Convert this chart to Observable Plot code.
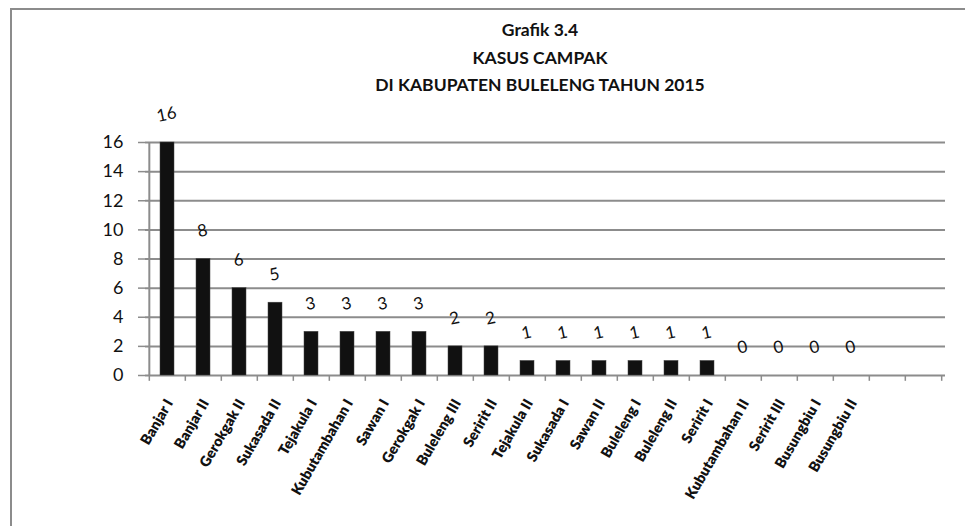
<!DOCTYPE html>
<html>
<head>
<meta charset="utf-8">
<script src="https://cdn.jsdelivr.net/npm/d3@7"></script>
<script src="https://cdn.jsdelivr.net/npm/@observablehq/plot@0.6"></script>
<style>
  html, body { margin: 0; padding: 0; background: #fff; }
  #wrap { position: relative; width: 965px; height: 526px; overflow: hidden; font-family: Lato, "Open Sans", sans-serif; }
  #frame { position: absolute; left: 10px; top: 8px; width: 1000px; height: 600px; border-top: 2px solid #8c8c8c; border-left: 2px solid #8c8c8c; }
  #title { position: absolute; left: 290px; width: 500px; top: 16px; text-align: center; font-weight: bold; font-size: 17.5px; line-height: 27.5px; color: #111; }
  #chart { position: absolute; left: 0; top: 0; }
</style>
</head>
<body>
<div id="wrap">
  <div id="frame"></div>
  <div id="title">Grafik 3.4<br>KASUS CAMPAK<br>DI KABUPATEN BULELENG TAHUN 2015</div>
  <div id="chart"></div>
</div>
<script>
const categories = ["Banjar I","Banjar II","Gerokgak II","Sukasada II","Tejakula I","Kubutambahan I","Sawan I","Gerokgak I","Buleleng III","Seririt II","Tejakula II","Sukasada I","Sawan II","Buleleng I","Buleleng II","Seririt I","Kubutambahan II","Seririt III","Busungbiu I","Busungbiu II"];
const values = [16,8,6,5,3,3,3,3,2,2,1,1,1,1,1,1,0,0,0,0];
const emptySlots = [" ", "  "];
const yTicks = [0,2,4,6,8,10,12,14,16];

const data = categories.map((c, i) => ({name: c, value: values[i]}));
const domain = categories.concat(emptySlots);

const W = 965, H = 526;
const mL = 145, mR = 20, mT = 142, mB = 151;
const step = (W - mL - mR) / domain.length;
const grey = "#8c8c8c";

const chart = Plot.plot({
  width: W,
  height: H,
  marginLeft: mL,
  marginRight: mR,
  marginTop: mT,
  marginBottom: mB,
  style: {background: "transparent", fontFamily: "Lato, 'Open Sans', sans-serif", color: "#111"},
  x: {domain, paddingInner: 0.62, paddingOuter: 0.31, label: null},
  y: {domain: [0, 16], label: null},
  marks: [
    Plot.gridY(yTicks, {stroke: grey, strokeOpacity: 1, strokeWidth: 2}),
    Plot.ruleX([domain[0]], {y1: 0, y2: 16, dx: -step / 2, stroke: grey, strokeWidth: 2}),
    Plot.ruleX(domain, {y1: 0, y2: -0.4, dx: -step / 2, stroke: grey, strokeWidth: 1.5}),
    Plot.ruleX([domain[domain.length - 1]], {y1: 0, y2: -0.4, dx: step / 2, stroke: grey, strokeWidth: 1.5}),
    Plot.axisY({ticks: yTicks, tickSize: 7, tickPadding: 15, fontSize: 18, stroke: grey, strokeWidth: 1.5, label: null}),
    Plot.axisX({tickSize: 0, tickRotate: -60, tickPadding: 25, dx: 2, fontSize: 14.5, fontWeight: 800, label: null}),
    Plot.barY(data, {x: "name", y: "value", fill: "#111", stroke: "#444", strokeWidth: 0.5}),
    Plot.text(data, {x: "name", y: "value", text: d => String(d.value), dy: -28, dx: -1, rotate: -12, fontSize: 17, fill: "#111"})
  ]
});
document.getElementById("chart").appendChild(chart);
</script>
</body>
</html>
